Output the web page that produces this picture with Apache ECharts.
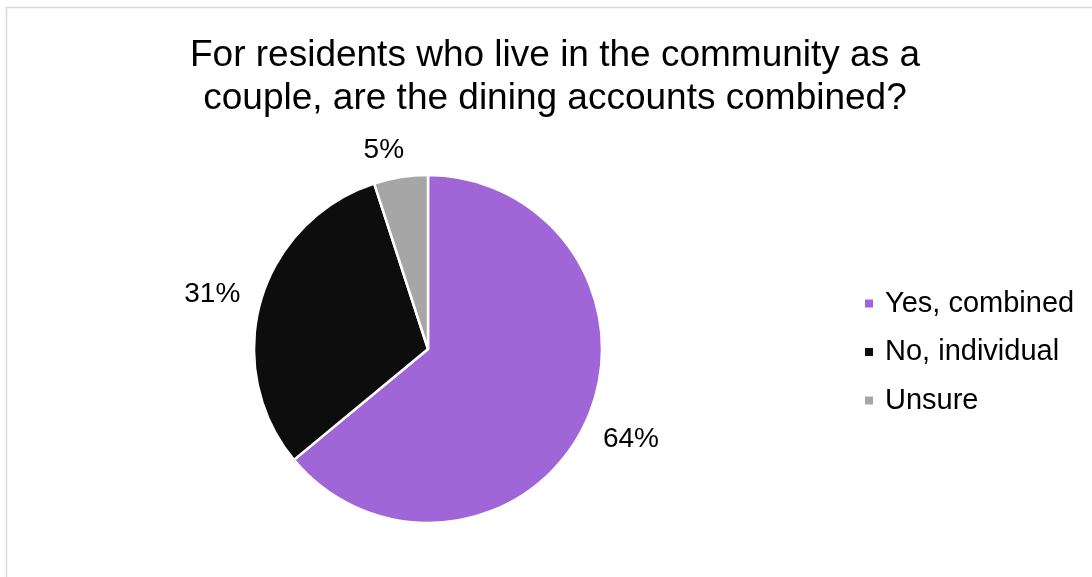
<!DOCTYPE html>
<html>
<head>
<meta charset="utf-8">
<script src="https://cdn.jsdelivr.net/npm/echarts@6/dist/echarts.min.js"></script>
<style>
  html, body { margin: 0; padding: 0; background: #ffffff; }
  #chart { width: 1092px; height: 577px; }
</style>
</head>
<body>
<div id="chart"></div>
<script>
// Survey answers: share of couples by how their dining accounts are set up
const titleLines = ['For residents who live in the community as a', 'couple, are the dining accounts combined?'];
const categories = ['Yes, combined', 'No, individual', 'Unsure'];
const shares = [64, 31, 5];

// Slice colours, in category order
const sliceColors = ['#a066d8', '#0d0d0d', '#a6a6a6'];
// Where each percentage label sits: leader length from the rim, then offset from its end
const labelReach = [37, 23, 27];
const labelShift = [-16, -1.5, -7.5];

const FONT = "'Liberation Sans', Arial, sans-serif";

const chart = echarts.init(document.getElementById('chart'), null, { renderer: 'canvas' });

const pieData = categories.map((name, i) => ({
  name: name,
  value: shares[i],
  itemStyle: { color: sliceColors[i] },
  label: { distanceToLabelLine: labelShift[i] },
  labelLine: { show: false, length: labelReach[i], length2: 0 }
}));

chart.setOption({
  backgroundColor: '#ffffff',
  animation: false,
  graphic: [{
    type: 'rect',
    silent: true,
    shape: { x: 6.5, y: 7.5, width: 1200, height: 700 },
    style: { fill: 'none', stroke: '#d9d9d9', lineWidth: 1.5 }
  }],
  title: {
    text: titleLines.join('\n'),
    left: 550,
    top: 29,
    textAlign: 'center',
    textStyle: {
      fontFamily: FONT,
      fontSize: 37,
      fontWeight: 'normal',
      lineHeight: 43,
      color: '#000000'
    }
  },
  legend: {
    orient: 'vertical',
    left: 858,
    top: 284,
    itemWidth: 10,
    itemHeight: 10,
    itemGap: 19.5,
    icon: 'rect',
    data: categories,
    textStyle: {
      fontFamily: FONT,
      fontSize: 29,
      lineHeight: 29,
      color: '#000000',
      padding: [0, 0, 0, 6]
    }
  },
  series: [{
    type: 'pie',
    center: [428, 349],
    radius: 174,
    startAngle: 90,
    clockwise: true,
    avoidLabelOverlap: false,
    itemStyle: { borderColor: '#ffffff', borderWidth: 2.5 },
    emphasis: { disabled: true },
    label: {
      show: true,
      position: 'outside',
      formatter: '{d}%',
      fontFamily: FONT,
      fontSize: 28,
      color: '#000000'
    },
    labelLine: { show: false },
    data: pieData
  }]
});
</script>
</body>
</html>
